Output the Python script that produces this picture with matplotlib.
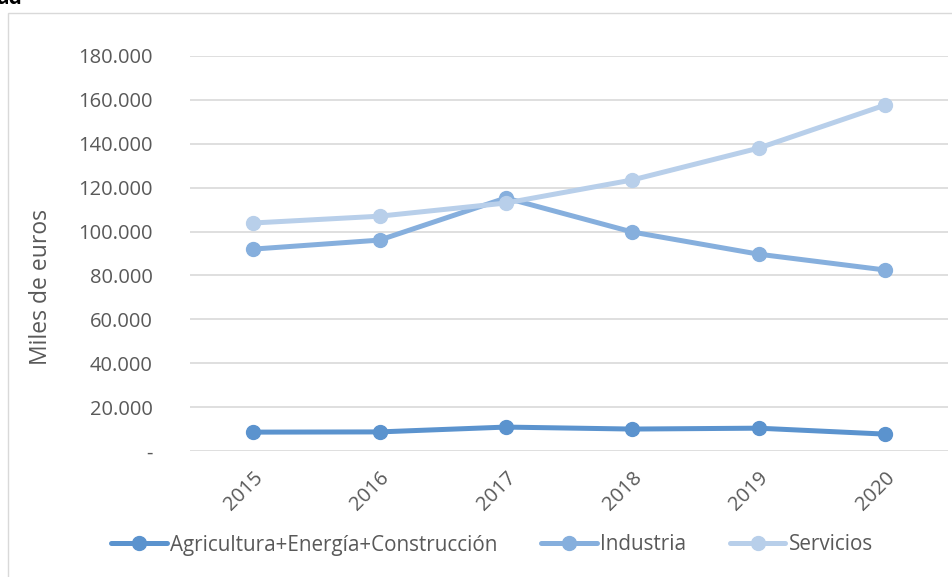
import matplotlib.pyplot as plt
from matplotlib.patches import Rectangle
from matplotlib.ticker import FuncFormatter

# datos
years = ['2015', '2016', '2017', '2018', '2019', '2020']
agricultura = [8600, 8700, 10900, 10000, 10400, 7700]
industria = [92000, 96100, 115300, 99800, 89700, 82500]
servicios = [103900, 107000, 113000, 123500, 138000, 157600]
yticks = [0, 20000, 40000, 60000, 80000, 100000, 120000, 140000, 160000, 180000]

plt.rcParams['font.family'] = ['Open Sans', 'DejaVu Sans']
txt = '#595959'
grid = '#D9D9D9'

fig = plt.figure(figsize=(9.52, 5.77), dpi=100)
W, H = 952, 577

# marco del gráfico (cortado a la derecha y abajo)
fig.patches.append(Rectangle((8 / W, -0.1), 1.2, 1 - 13 / H + 0.1, transform=fig.transFigure,
                             fill=False, edgecolor=grid, linewidth=1))
fig.text(-0.004, 1 - 4 / H, 'ad', fontsize=15, fontweight='bold', color='black', va='baseline')

left, right = 190, 948
top, bottom = 56, 451
ax = fig.add_axes([left / W, 1 - bottom / H, (right - left) / W, (bottom - top) / H])
ax.set_facecolor('none')

x = range(len(years))
series = [
    (agricultura, 'Agricultura+Energía+Construcción', '#5B93CE'),
    (industria, 'Industria', '#86AFDD'),
    (servicios, 'Servicios', '#B8CFEA'),
]
for vals, name, col in series:
    ax.plot(x, vals, color=col, lw=3.6, marker='o', ms=10, label=name, solid_capstyle='round')

ax.set_xlim(-0.5, len(years) - 0.5)
ax.set_ylim(0, 180000)
ax.set_yticks(yticks)
ax.yaxis.set_major_formatter(FuncFormatter(lambda v, p: '-' if v == 0 else f'{int(v):,}'.replace(',', '.')))
ax.grid(axis='y', color=grid, lw=1.2)
ax.set_axisbelow(True)
for s in ax.spines.values():
    s.set_visible(False)
ax.tick_params(length=0, labelsize=14.5, labelcolor=txt)
ax.tick_params(axis='y', pad=27)
ax.set_xticks(list(x))
ax.set_xticklabels(years, rotation=45, ha='right', va='top', rotation_mode='anchor')
ax.tick_params(axis='x', pad=12)

fig.text(41 / W, 1 - 287 / H, 'Miles de euros', rotation=90, fontsize=16.5, color=txt,
         ha='center', va='center')

leg = fig.legend(loc='center', bbox_to_anchor=(492 / W, 1 - 545 / H), ncol=3, frameon=False,
                 fontsize=14.9, handlelength=2.7, handletextpad=0.15, columnspacing=2.1,
                 labelcolor=txt)

fig.savefig('out.png', dpi=100)
